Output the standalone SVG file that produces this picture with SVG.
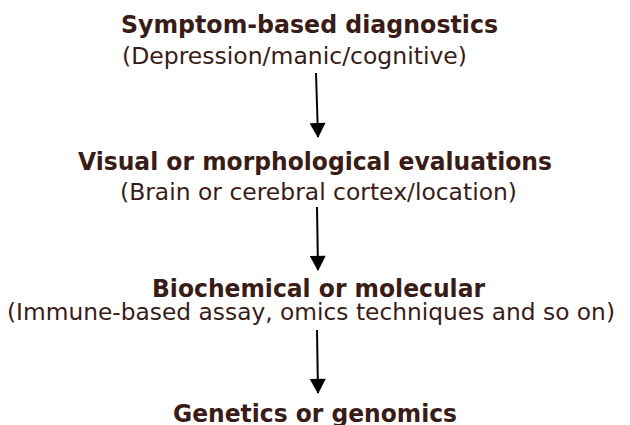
<svg xmlns="http://www.w3.org/2000/svg" width="630" height="425" viewBox="0 0 630 425">
<style>
text{font-family:"DejaVu Sans","Liberation Sans",sans-serif;fill:#3a1c17;font-size:23px}
.t{font-weight:bold;font-size:24px}
.c{stroke:#000;stroke-width:2;fill:none}
</style>
<defs>
<marker id="ah" markerUnits="userSpaceOnUse" markerWidth="18" markerHeight="16" refX="15" refY="8.5" orient="auto" viewBox="0 0 16 17">
<path d="M0,0 L16,8.5 L0,17 Z" fill="#000"/>
</marker>
</defs>
<rect width="630" height="425" fill="#fff"/>
<g id="n1">
<text class="t" x="121" y="33" textLength="377" lengthAdjust="spacingAndGlyphs">Symptom-based diagnostics</text>
<text x="122" y="64" textLength="345" lengthAdjust="spacingAndGlyphs">(Depression/manic/cognitive)</text>
</g>
<g id="n2">
<text class="t" x="78" y="170" textLength="474" lengthAdjust="spacingAndGlyphs">Visual or morphological evaluations</text>
<text x="120" y="200" textLength="397" lengthAdjust="spacingAndGlyphs">(Brain or cerebral cortex/location)</text>
</g>
<g id="n3">
<text class="t" x="152" y="297" textLength="333" lengthAdjust="spacingAndGlyphs">Biochemical or molecular</text>
<text x="7" y="320" textLength="608" lengthAdjust="spacingAndGlyphs">(Immune-based assay, omics techniques and so on)</text>
</g>
<g id="n4">
<text class="t" x="173" y="422" textLength="284" lengthAdjust="spacingAndGlyphs">Genetics or genomics</text>
</g>
<g id="connectors">
<line class="c" x1="316" y1="73" x2="318" y2="137" marker-end="url(#ah)"/>
<line class="c" x1="317" y1="207" x2="318" y2="270" marker-end="url(#ah)"/>
<line class="c" x1="317" y1="330" x2="318" y2="393" marker-end="url(#ah)"/>
</g>
</svg>
